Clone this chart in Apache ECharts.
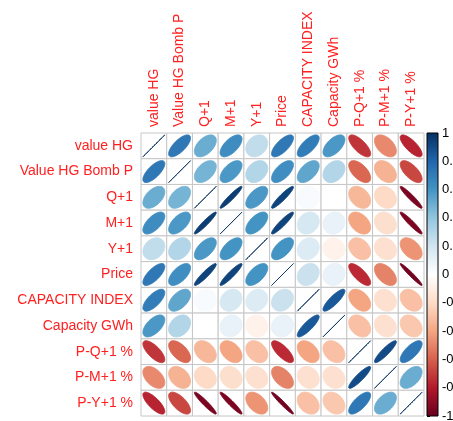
<!DOCTYPE html>
<html>
<head>
<meta charset="utf-8">
<script src="https://cdn.jsdelivr.net/npm/echarts@6/dist/echarts.min.js"></script>
<style>
  html, body { margin: 0; padding: 0; background: #fff; }
  #chart { width: 453px; height: 421px; }
</style>
</head>
<body>
<div id="chart"></div>
<script>
// Variable names, in matrix order
const variables = [
  'value HG', 'Value HG Bomb P', 'Q+1', 'M+1', 'Y+1', 'Price',
  'CAPACITY INDEX', 'Capacity GWh', 'P-Q+1 %', 'P-M+1 %', 'P-Y+1 %'
];

// Correlation matrix, one row per variable
const corr = [
  [ 1.00,  0.72,  0.50,  0.63,  0.25,  0.72,  0.70,  0.58, -0.72, -0.48, -0.77],
  [ 0.72,  1.00,  0.47,  0.58,  0.30,  0.62,  0.53,  0.30, -0.58, -0.35, -0.67],
  [ 0.50,  0.47,  1.00,  0.95,  0.58,  0.93,  0.03,  0.00, -0.33, -0.20, -0.95],
  [ 0.63,  0.58,  0.95,  1.00,  0.60,  0.93,  0.18,  0.10, -0.40, -0.18, -0.95],
  [ 0.25,  0.30,  0.58,  0.60,  1.00,  0.60,  0.15, -0.07, -0.30, -0.17, -0.45],
  [ 0.72,  0.62,  0.93,  0.93,  0.60,  1.00,  0.22,  0.10, -0.75, -0.50, -0.97],
  [ 0.70,  0.53,  0.03,  0.18,  0.15,  0.22,  1.00,  0.85, -0.40, -0.17, -0.30],
  [ 0.58,  0.30,  0.00,  0.10, -0.07,  0.10,  0.85,  1.00, -0.30, -0.17, -0.27],
  [-0.72, -0.58, -0.33, -0.40, -0.30, -0.75, -0.40, -0.30,  1.00,  0.90,  0.72],
  [-0.48, -0.35, -0.20, -0.18, -0.17, -0.50, -0.17, -0.17,  0.90,  1.00,  0.50],
  [-0.77, -0.67, -0.95, -0.95, -0.45, -0.97, -0.30, -0.27,  0.72,  0.50,  1.00]
];

// Diverging red-white-blue palette, from -1 to 1
const palette = [
  '#67001F', '#B2182B', '#D6604D', '#F4A582', '#FDDBC7', '#FFFFFF',
  '#D1E5F0', '#92C5DE', '#4393C3', '#2166AC', '#053061'
];

const cells = [];
corr.forEach((row, j) => row.forEach((r, i) => cells.push([i, j, r])));

const labelFont = { fontFamily: 'Liberation Sans, Arial, sans-serif', fontSize: 14, color: '#FF2020' };

// One cell: grey-bordered square with an ellipse whose shape follows r
function renderCell(params, api) {
  const c = api.coord([api.value(0), api.value(1)]);
  const s = api.size([1, 1]);
  const w = s[0], h = s[1];
  const r = Math.max(-1, Math.min(1, api.value(2)));
  const a = Math.acos(r);
  const pts = [];
  const n = 99;
  for (let k = 0; k < n; k++) {
    const t = 2 * Math.PI * k / (n - 1);
    const ex = 0.85 * Math.cos(t + a / 2) / 2;
    const ey = 0.85 * Math.cos(t - a / 2) / 2;
    pts.push([c[0] + ex * w, c[1] - ey * h]);
  }
  const color = api.visual('color');
  return {
    type: 'group',
    children: [
      { type: 'rect', shape: { x: c[0] - w / 2, y: c[1] - h / 2, width: w, height: h },
        style: { fill: '#fff', stroke: '#c6c6c6', lineWidth: 1 } },
      { type: 'polygon', shape: { points: pts },
        style: { fill: color, stroke: color, lineWidth: 1 } }
    ]
  };
}

// Colour bar drawn as a gradient rect over its own value axis
function renderBar(params, api) {
  const tl = api.coord([0, api.value(1)]);
  const br = api.coord([1, api.value(2)]);
  const stops = palette.slice().reverse().map((col, i) => ({ offset: i / (palette.length - 1), color: col }));
  return {
    type: 'rect',
    shape: { x: tl[0], y: tl[1], width: br[0] - tl[0], height: br[1] - tl[1] },
    style: {
      fill: new echarts.graphic.LinearGradient(0, 0, 0, 1, stops),
      stroke: '#000', lineWidth: 1
    }
  };
}

const chart = echarts.init(document.getElementById('chart'), null, { renderer: 'canvas' });
chart.setOption({
  animation: false,
  backgroundColor: '#fff',
  grid: [
    { left: 141, top: 133, width: 283, height: 283, outerBoundsMode: 'none', containLabel: false },
    { left: 427, top: 133, width: 11, height: 283, outerBoundsMode: 'none', containLabel: false }
  ],
  xAxis: [
    {
      gridIndex: 0, type: 'category', data: variables, position: 'top',
      axisLine: { show: false }, axisTick: { show: false }, splitLine: { show: false },
      axisLabel: Object.assign({ rotate: -90, margin: 6, interval: 0 }, labelFont)
    },
    {
      gridIndex: 1, type: 'value', min: 0, max: 1, show: false
    }
  ],
  yAxis: [
    {
      gridIndex: 0, type: 'category', data: variables, inverse: true,
      axisLine: { show: false }, axisTick: { show: false }, splitLine: { show: false },
      axisLabel: Object.assign({ margin: 8, interval: 0 }, labelFont)
    },
    {
      gridIndex: 1, type: 'value', min: -1, max: 1, interval: 0.2, position: 'right',
      axisLine: { show: false },
      axisTick: { show: true, length: 3, lineStyle: { color: '#000' } },
      splitLine: { show: false },
      axisLabel: { margin: 4, color: '#000', fontSize: 13, fontFamily: 'Liberation Sans, Arial, sans-serif' }
    }
  ],
  visualMap: {
    type: 'continuous', show: false, min: -1, max: 1, dimension: 2, seriesIndex: 0,
    inRange: { color: palette }
  },
  series: [
    {
      type: 'custom', xAxisIndex: 0, yAxisIndex: 0,
      renderItem: renderCell, data: cells
    },
    {
      type: 'custom', xAxisIndex: 1, yAxisIndex: 1,
      renderItem: renderBar, data: [[0, 1, -1]]
    }
  ]
});
</script>
</body>
</html>
